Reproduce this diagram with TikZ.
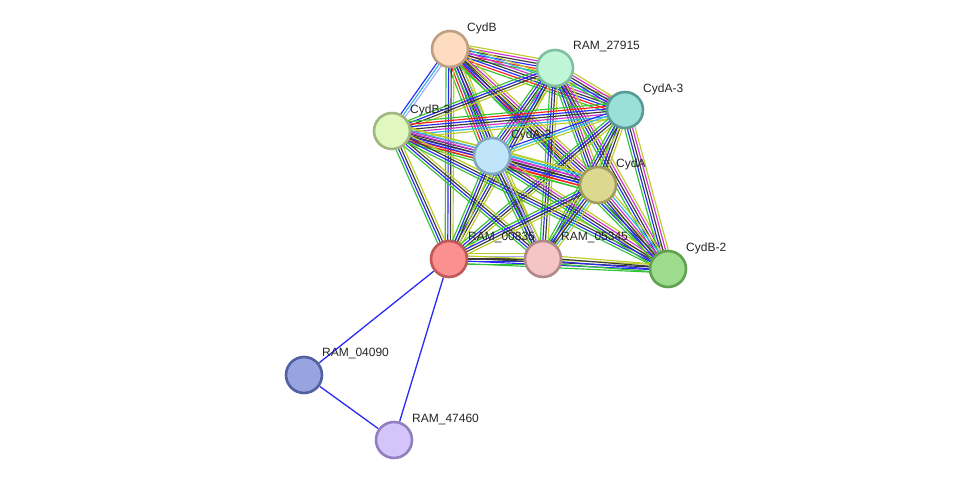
\documentclass[tikz,border=0pt]{standalone}
\usepackage{fontspec}
\setmainfont{Liberation Sans}
\usetikzlibrary{calc,backgrounds}
\definecolor{cg}{HTML}{33C433}
\definecolor{cr}{HTML}{FF2020}
\definecolor{cb}{HTML}{2A2AF5}
\definecolor{ck}{HTML}{3A3A3A}
\definecolor{cm}{HTML}{D030D0}
\definecolor{cc}{HTML}{30B8E0}
\definecolor{cy}{HTML}{BDCC2A}
\definecolor{ch}{HTML}{A8A8FF}
\tikzset{
  eg/.style={draw=cg}, er/.style={draw=cr}, eb/.style={draw=cb}, ek/.style={draw=ck},
  em/.style={draw=cm}, ec/.style={draw=cc}, ey/.style={draw=cy}, eh/.style={draw=ch},
  prot/.style={circle, minimum size=36pt, inner sep=0pt, line width=2.6pt},
  lbl/.style={anchor=west, inner sep=0pt, font=\fontsize{12}{14}\selectfont, text=black!85},
  single/.style={draw=cb, line width=1.3pt}
}
\newcommand\edgebundle[3]{%
  \gdef\bndN{0}%
  \foreach \cc in {#3}{\xdef\bndN{\the\numexpr\bndN+1\relax}}%
  \foreach \cc [count=\ii] in {#3}{%
    \pgfmathsetmacro\bndoff{(\ii-(\bndN+1)/2)*2.6}%
    \draw[\cc, line width=1.15pt] ($(#1)!\bndoff pt!90:(#2)$) -- ($(#2)!\bndoff pt!-90:(#1)$);
  }%
}
\begin{document}
\begin{tikzpicture}[x=1pt,y=-1pt]
\useasboundingbox (0,0) rectangle (976,486);
\begin{scope}[on background layer]
\fill[white] (0,0) rectangle (976,486);
\end{scope}
% nodes
\node[prot, fill={rgb,255:red,253;green,220;blue,192}, draw={rgb,255:red,190;green,160;blue,128}] (B) at (450,49) {};
\node[prot, fill={rgb,255:red,192;green,246;blue,216}, draw={rgb,255:red,128;green,192;blue,160}] (R27) at (555,68) {};
\node[prot, fill={rgb,255:red,154;green,224;blue,216}, draw={rgb,255:red,90;green,154;blue,150}] (A3) at (625,110) {};
\node[prot, fill={rgb,255:red,224;green,248;blue,192}, draw={rgb,255:red,160;green,184;blue,128}] (B3) at (392,131) {};
\node[prot, fill={rgb,255:red,192;green,228;blue,250}, draw={rgb,255:red,128;green,168;blue,192}] (A2) at (492,156) {};
\node[prot, fill={rgb,255:red,220;green,216;blue,144}, draw={rgb,255:red,160;green,156;blue,96}] (A) at (598,185) {};
\node[prot, fill={rgb,255:red,250;green,144;blue,144}, draw={rgb,255:red,192;green,88;blue,88}] (R00) at (449,259) {};
\node[prot, fill={rgb,255:red,245;green,197;blue,197}, draw={rgb,255:red,176;green,136;blue,136}] (R05) at (543,259) {};
\node[prot, fill={rgb,255:red,156;green,220;blue,140}, draw={rgb,255:red,96;green,160;blue,80}] (B2) at (668,269) {};
\node[prot, fill={rgb,255:red,152;green,164;blue,224}, draw={rgb,255:red,80;green,96;blue,160}] (R04) at (304,375) {};
\node[prot, fill={rgb,255:red,212;green,196;blue,250}, draw={rgb,255:red,144;green,128;blue,192}] (R47) at (394,440) {};
% labels
\node[lbl] (lB) at (467,28) {CydB};
\node[lbl] (lR27) at (573,47) {RAM\_27915};
\node[lbl] (lA3) at (643,89) {CydA-3};
\node[lbl] (lB3) at (410,110) {CydB-3};
\node[lbl] (lA2) at (511,135) {CydA-2};
\node[lbl] (lA) at (616,164) {CydA};
\node[lbl] (lR00) at (468,238) {RAM\_00835};
\node[lbl] (lR05) at (561,238) {RAM\_05345};
\node[lbl] (lB2) at (686,248) {CydB-2};
\node[lbl] (lR04) at (322,354) {RAM\_04090};
\node[lbl] (lR47) at (412,419) {RAM\_47460};
% edges
\begin{scope}[on background layer]
\edgebundle{B}{R27}{eg,er,eb,ek,em,ey}
\edgebundle{B}{A3}{eg,er,eb,ek,em,ec,ey}
\edgebundle{B}{B3}{eb,ec,eh}
\edgebundle{B}{A2}{eg,er,eb,ek,em,ec,ey}
\edgebundle{B}{A}{eg,er,eb,ek,em,ey}
\edgebundle{B}{R00}{eg,eb,ek,ey}
\edgebundle{B}{R05}{eg,eb,ek,ey}
\edgebundle{B}{B2}{eg,eb,ek,ey}
\edgebundle{R27}{A3}{eg,eb,ek,em,ey}
\edgebundle{R27}{B3}{eg,eb,ek,ey}
\edgebundle{R27}{A2}{eg,eb,ek,em,ec,ey}
\edgebundle{R27}{A}{eg,eb,ek,em,ey}
\edgebundle{R27}{R00}{eg,eb,ek,ey}
\edgebundle{R27}{R05}{eg,eb,ek,ey}
\edgebundle{R27}{B2}{eg,eb,ek,em,ey}
\edgebundle{A3}{B3}{eg,er,eb,ek,em,ec,ey}
\edgebundle{A3}{A2}{eb,ec,ey}
\edgebundle{A3}{A}{eg,eb,ek,ey}
\edgebundle{A3}{R00}{eg,eb,ek,ey}
\edgebundle{A3}{R05}{eg,eb,ek,ey}
\edgebundle{A3}{B2}{eg,eb,ek,em,ey}
\edgebundle{B3}{A2}{eg,er,eb,ek,em,ey}
\edgebundle{B3}{A}{eg,er,eb,ek,em,ec,ey}
\edgebundle{B3}{R00}{eg,eb,ek,ey}
\edgebundle{B3}{R05}{eg,eb,ek,ey}
\edgebundle{B3}{B2}{eg,eb,ek,ey}
\edgebundle{A2}{A}{eg,er,eb,ek,em,ec,ey}
\edgebundle{A2}{R00}{eg,eb,ek,ey}
\edgebundle{A2}{R05}{eg,eb,ek,eh,ey}
\edgebundle{A2}{B2}{eg,eb,ek,em,ey}
\edgebundle{A}{R00}{eg,eb,ek,ey}
\edgebundle{A}{R05}{eg,eb,ek,ec,ey}
\edgebundle{A}{B2}{eg,eb,ek,em,ec,ey}
\edgebundle{R00}{R05}{eg,eb,ek,eh,ey}
\edgebundle{R00}{B2}{eg,eb,ek,ey}
\edgebundle{R05}{B2}{eg,eb,ek,ey}
\draw[single] (R00) -- (R04);
\draw[single] (R00) -- (R47);
\draw[single] (R04) -- (R47);
\end{scope}
\end{tikzpicture}
\end{document}
